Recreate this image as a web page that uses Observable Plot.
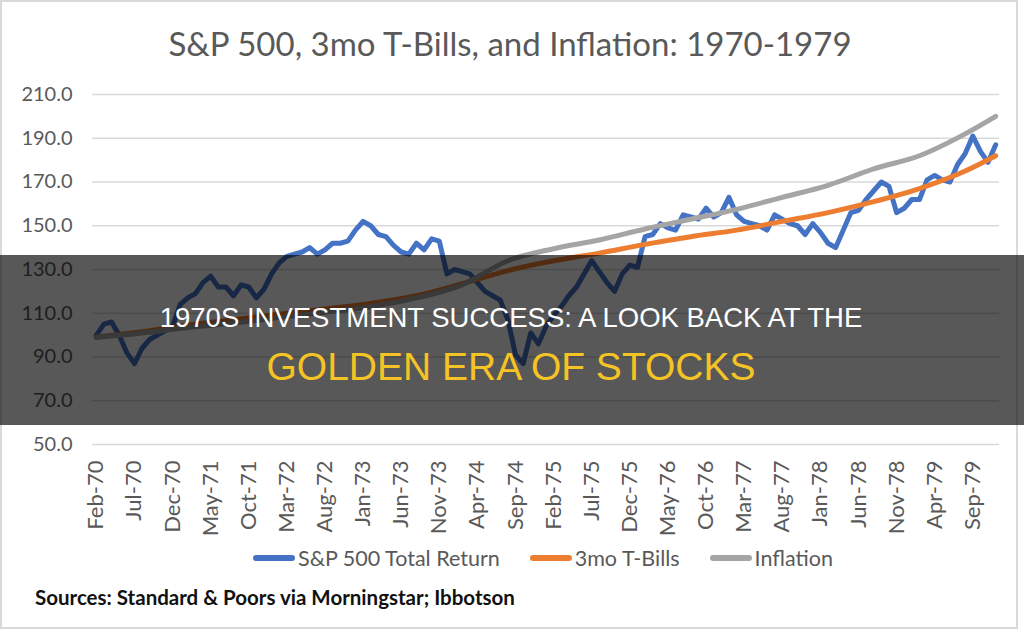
<!DOCTYPE html>
<html>
<head>
<meta charset="utf-8">
<script src="https://cdn.jsdelivr.net/npm/d3@7"></script>
<script src="https://cdn.jsdelivr.net/npm/@observablehq/plot@0.6"></script>
<style>
  body { margin: 0; background: #fff; }
  #wrap { position: relative; width: 1024px; height: 630px; overflow: hidden; font-family: Lato, "Open Sans", sans-serif; background:#fff; }
  #frame { position: absolute; left: 0px; top: 0px; width: 1014px; height: 625px; border: 2px solid #d9d9d9; box-sizing: content-box; }
  #title { position: absolute; top: 23px; left: 0; width: 1020px; text-align: center; font-size: 33px; color: #595959; line-height: 40px; }
  #chart { position: absolute; left: 0; top: 0; }
  #legend { position: absolute; top: 544px; left: 0; width: 1086px; display: flex; justify-content: center; align-items: center; font-size: 21.5px; color: #595959; line-height: 28px; }
  #legend .item { display: flex; align-items: center; margin: 0 15px; }
  #legend .sw { width: 42px; height: 6px; border-radius: 3px; margin-right: 3px; }
  #sources { position: absolute; left: 35px; top: 583px; font-size: 20.5px; font-weight: 700; color: #111; line-height: 28px; }
  #overlay { position: absolute; left: 0; top: 0; }
</style>
</head>
<body>
<div id="wrap">
  <div id="frame"></div>
  <div id="chart"></div>
  <div id="title"></div>
  <div id="legend"></div>
  <div id="sources"></div>
  <svg id="overlay" width="1024" height="630"></svg>
</div>
<script>
// ---- data ----
const titleText = "S&P 500, 3mo T-Bills, and Inflation: 1970-1979";
const sourcesText = "Sources: Standard & Poors via Morningstar; Ibbotson";
const headline1 = "1970S INVESTMENT SUCCESS: A LOOK BACK AT THE";
const headline2 = "GOLDEN ERA OF STOCKS";

const seriesNames = ["S&P 500 Total Return", "3mo T-Bills", "Inflation"];
const seriesColors = ["#4472C4", "#ED7D31", "#A5A5A5"];

// monthly categories Feb-70 .. Dec-79
const fmt = d3.utcFormat("%b-%y");
const months = d3.utcMonth.range(new Date(Date.UTC(1970, 1, 1)), new Date(Date.UTC(1980, 0, 1))).map(fmt);

const xTickLabels = ["Feb-70","Jul-70","Dec-70","May-71","Oct-71","Mar-72","Aug-72","Jan-73","Jun-73","Nov-73",
  "Apr-74","Sep-74","Feb-75","Jul-75","Dec-75","May-76","Oct-76","Mar-77","Aug-77","Jan-78","Jun-78","Nov-78","Apr-79","Sep-79"];
const yTicks = [50, 70, 90, 110, 130, 150, 170, 190, 210];

// S&P 500 total return index, one value per month (Feb-70 .. Dec-79)
const sp500 = [
  100,105,106,100,92,87,94,98,100,102,
  104,114,117,119,124,127,122,122,118,123,
  122,117,121,128,133,136,137,138,140,137,
  139,142,142,143,148,152,150,146,145,141,
  138,137,142,139,144,143,128,130,129,128,
  124,120,118,116,107,91,87,101,96,104,
  109,113,118,122,128,134,129,124,120,128,
  132,131,145,146,151,149,148,155,154,153,
  158,154,156,163,155,152,151,150,148,155,
  153,151,150,146,151,147,142,140,148,156,
  157,162,166,170,168,156,158,162,162,171,
  173,171,170,178,183,191,184,179,187
];

// smooth series read at six-month intervals
const smoothMonths = ["Feb-70","Aug-70","Feb-71","Aug-71","Feb-72","Aug-72","Feb-73","Aug-73","Feb-74","Aug-74",
  "Feb-75","Aug-75","Feb-76","Aug-76","Feb-77","Aug-77","Feb-78","Aug-78","Feb-79","Aug-79","Dec-79"];
const tbills = [99,101.5,104.5,107,109.5,112,114.5,118,123.5,129.5,134,137.5,141.5,145,148,152,156,161,167,175,182];
const inflation = [99,101,103.5,105.5,108,110.5,113,117,123,134,139.5,143.5,148.5,153,157.5,163,168.5,176,182,192,200];

// ---- tables ----
const spData = months.map((m, i) => ({month: m, value: sp500[i]}));
const tbData = smoothMonths.map((m, i) => ({month: m, value: tbills[i]}));
const infData = smoothMonths.map((m, i) => ({month: m, value: inflation[i]}));

// ---- chart ----
const chart = Plot.plot({
  width: 1024,
  height: 540,
  marginLeft: 92,
  marginRight: 25,
  marginTop: 94,
  marginBottom: 96,
  style: {fontFamily: "Lato, 'Open Sans', sans-serif", color: "#595959", background: "transparent", overflow: "visible"},
  x: {type: "point", domain: months, padding: 0.5, align: 0.5},
  y: {domain: [50, 210]},
  marks: [
    Plot.ruleY(yTicks, {stroke: "#d9d9d9", strokeWidth: 1.5}),
    Plot.axisY({ticks: yTicks, tickFormat: d => d.toFixed(1), tickSize: 0, tickPadding: 20, fontSize: 20, label: null}),
    Plot.axisX({ticks: xTickLabels, tickRotate: -90, tickSize: 0, tickPadding: 16, fontSize: 22, label: null}),
    Plot.line(spData, {x: "month", y: "value", stroke: seriesColors[0], strokeWidth: 5, strokeLinejoin: "round", strokeLinecap: "round"}),
    Plot.line(tbData, {x: "month", y: "value", stroke: seriesColors[1], strokeWidth: 5, curve: "monotone-x", strokeLinecap: "round"}),
    Plot.line(infData, {x: "month", y: "value", stroke: seriesColors[2], strokeWidth: 5, curve: "monotone-x", strokeLinecap: "round"})
  ]
});
document.getElementById("chart").appendChild(chart);

document.getElementById("title").textContent = titleText;
document.getElementById("sources").textContent = sourcesText;

const legend = document.getElementById("legend");
seriesNames.forEach((name, i) => {
  const item = document.createElement("div");
  item.className = "item";
  const sw = document.createElement("span");
  sw.className = "sw";
  sw.style.background = seriesColors[i];
  const lab = document.createElement("span");
  lab.textContent = name;
  item.appendChild(sw);
  item.appendChild(lab);
  legend.appendChild(item);
});

// ---- headline overlay ----
const ov = d3.select("#overlay");
ov.append("rect").attr("x", 0).attr("y", 255).attr("width", 1024).attr("height", 170).attr("fill", "rgba(0,0,0,0.655)");
ov.append("text").attr("x", 511).attr("y", 327).attr("text-anchor", "middle")
  .attr("fill", "#ffffff").attr("font-family", "'Liberation Sans', Arial, sans-serif").attr("font-size", 27.5)
  .text(headline1);
ov.append("text").attr("x", 511).attr("y", 380).attr("text-anchor", "middle")
  .attr("fill", "#F6C325").attr("font-family", "'Liberation Sans', Arial, sans-serif").attr("font-size", 39)
  .text(headline2);
</script>
</body>
</html>
